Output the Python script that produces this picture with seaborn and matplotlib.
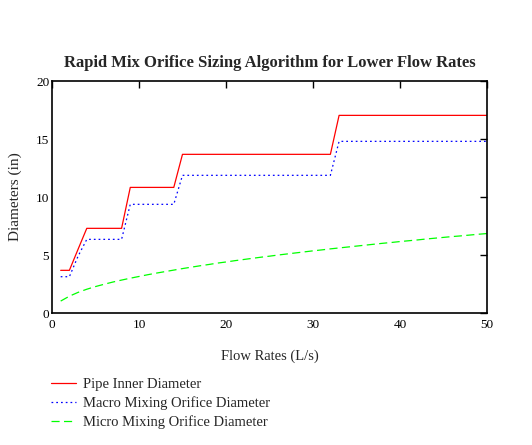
import numpy as np
import pandas as pd
import matplotlib
matplotlib.use("Agg")
import matplotlib.pyplot as plt
import seaborn as sns

# flow rates (L/s) and diameters (in)
flow = list(range(1, 51))

pipe_id = ([3.68, 3.68, 5.5] + [7.3] * 5 + [10.83] * 6 + [13.68] * 18
           + [17.04] * 18)
macro_orifice = ([3.13, 3.13, 4.9] + [6.35] * 5 + [9.37] * 6 + [11.87] * 18
                 + [14.8] * 18)
micro_orifice = [1.03, 1.45, 1.78, 2.05, 2.28, 2.48, 2.67, 2.84, 3.0, 3.15,
                 3.3, 3.44, 3.57, 3.7, 3.83, 3.95, 4.07, 4.18, 4.3, 4.4,
                 4.51, 4.61, 4.71, 4.81, 4.9, 5.0, 5.09, 5.18, 5.27, 5.36,
                 5.44, 5.53, 5.61, 5.69, 5.77, 5.85, 5.93, 6.01, 6.08, 6.16,
                 6.23, 6.3, 6.38, 6.45, 6.52, 6.59, 6.65, 6.72, 6.79, 6.85]

series_names = ["Pipe Inner Diameter", "Macro Mixing Orifice Diameter",
                "Micro Mixing Orifice Diameter"]

df = pd.DataFrame({
    "flow": flow * 3,
    "diameter": pipe_id + macro_orifice + micro_orifice,
    "series": ([series_names[0]] * 50 + [series_names[1]] * 50
               + [series_names[2]] * 50),
})

sns.set_style("white")
plt.rcParams["font.family"] = ["Liberation Serif", "DejaVu Serif"]

fig = plt.figure(figsize=(5.32, 4.45), dpi=100)
ax = fig.add_axes([0.0977, 0.2966, 0.8177, 0.5213])

palette = {series_names[0]: "#ff0000", series_names[1]: "#0000ff",
           series_names[2]: "#00ff00"}
dashes = {series_names[0]: "", series_names[1]: (1.4, 2.4),
          series_names[2]: (6.5, 3.5)}

sns.lineplot(data=df, x="flow", y="diameter", hue="series", style="series",
             palette=palette, dashes=dashes, linewidth=0.9, ax=ax,
             legend=False)

ax.set_xlim(0, 50)
ax.set_ylim(0, 20)
ax.set_xticks([0, 10, 20, 30, 40, 50])
ax.set_yticks([0, 5, 10, 15, 20])
ax.tick_params(direction="in", length=5, width=1, top=True, right=True,
               labelsize=9.5, colors="black")
ax.tick_params(axis="y", pad=2)
ax.tick_params(axis="x", pad=4)
for s in ax.spines.values():
    s.set_color("black")
    s.set_linewidth(1.2)

ax.set_title("Rapid Mix Orifice Sizing Algorithm for Lower Flow Rates",
             fontsize=12, fontweight="bold", pad=10)
ax.set_xlabel("Flow Rates (L/s)", fontsize=10.5, labelpad=14)
ax.set_ylabel("Diameters (in)", fontsize=11, labelpad=10)

handles = [plt.Line2D([], [], color=palette[n], linewidth=0.9,
                      dashes=dashes[n] if dashes[n] else (None, None))
           for n in series_names]
fig.legend(handles, series_names, loc="upper left",
           bbox_to_anchor=(0.072, 0.181), frameon=False, fontsize=10.5,
           handlelength=1.7, handletextpad=0.45, labelspacing=0.38)

fig.savefig("out.png", dpi=100)
